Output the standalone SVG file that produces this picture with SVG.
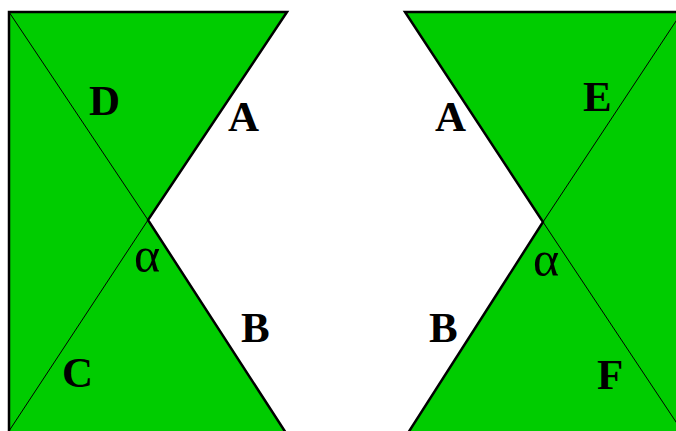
<svg xmlns="http://www.w3.org/2000/svg" width="676" height="431" viewBox="0 0 676 431">
<style>
.shape{fill:#00CC00;stroke:#000;stroke-width:2.5;stroke-linejoin:miter}
.thin{stroke:#000;stroke-width:1;fill:none}
.lbl{font-family:"Liberation Serif","Times New Roman",serif;font-weight:bold;font-size:43px;fill:#000}
.greek{font-family:"Liberation Serif","Times New Roman",serif;font-size:50px;fill:#000}
</style>
<rect width="676" height="431" fill="#fff"/>
<g id="left">
<path class="shape" d="M9,12 L287,12 L148,220 L286,433 L9,433 Z"/>
<line class="thin" x1="9" y1="12" x2="148" y2="220"/>
<line class="thin" x1="148" y1="220" x2="9" y2="431"/>
<text class="lbl" x="89" y="115">D</text>
<text class="lbl" x="228" y="131">A</text>
<text class="greek" x="134" y="272">α</text>
<text class="lbl" x="241" y="342">B</text>
<text class="lbl" x="62" y="387">C</text>
</g>
<g id="right">
<path class="shape" d="M405,12 L682,12 L682,433 L408,433 L543,222 Z"/>
<line class="thin" x1="543" y1="222" x2="682" y2="12"/>
<line class="thin" x1="543" y1="222" x2="682" y2="431"/>
<text class="lbl" x="435" y="131">A</text>
<text class="lbl" x="583" y="111">E</text>
<text class="greek" x="533" y="276">α</text>
<text class="lbl" x="429" y="342">B</text>
<text class="lbl" x="597" y="389">F</text>
</g>
</svg>
